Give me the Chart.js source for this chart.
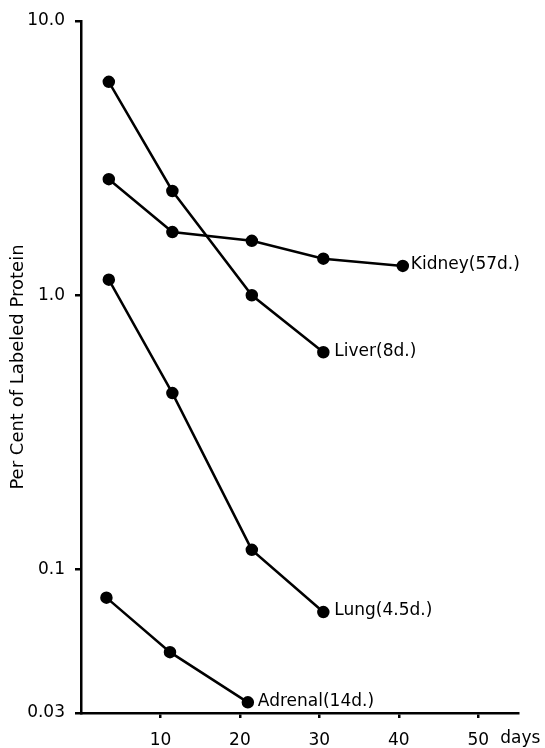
<!DOCTYPE html>
<html>
<head>
<meta charset="utf-8">
<script src="https://cdn.jsdelivr.net/npm/chart.js@4"></script>
<style>
  html, body { margin: 0; padding: 0; background: #fff; }
  #wrap { width: 545px; height: 748px; }
</style>
</head>
<body>
<div id="wrap"><canvas id="proteinChart"></canvas></div>
<script>
// Values (days after labeling, % of labeled protein)
const liverDays = [3.5, 11.5, 21.5, 30.5];
const liverValues = [6.0, 2.4, 1.0, 0.62];

const kidneyDays = [3.5, 11.5, 21.5, 30.5, 40.5];
const kidneyValues = [2.65, 1.70, 1.58, 1.36, 1.28];

const lungDays = [3.5, 11.5, 21.5, 30.5];
const lungValues = [1.14, 0.44, 0.118, 0.070];

const adrenalDays = [3.2, 11.2, 21];
const adrenalValues = [0.079, 0.050, 0.0328];

const seriesNames = ['Kidney(57d.)', 'Liver(8d.)', 'Lung(4.5d.)', 'Adrenal(14d.)'];
// gap between last dot and its name, px
const labelGaps = [8, 11, 11, 10];

// Axis ticks
const xTickValues = [10, 20, 30, 40, 50];
const yTickValues = [0.03, 0.1, 1, 10];
const yTickLabels = ['0.03', '0.1', '1.0', '10.0'];

Chart.defaults.font.family = '"DejaVu Sans", sans-serif';
Chart.defaults.color = '#000';

function toPoints(days, values) {
    return days.map((d, i) => ({ x: d, y: values[i] }));
}

function makeSet(label, days, values) {
    return {
        label: label,
        data: toPoints(days, values),
        borderColor: '#000',
        backgroundColor: '#000',
        borderWidth: 2.5,
        pointRadius: 5,
        pointBackgroundColor: '#000',
        pointBorderColor: '#000',
        tension: 0,
        clip: false
    };
}

// Put each curve's name right after its last point, plus the "days" unit
const endLabels = {
    id: 'endLabels',
    afterDatasetsDraw(chart) {
        const ctx = chart.ctx;
        ctx.save();
        ctx.font = '17px "DejaVu Sans", sans-serif';
        ctx.fillStyle = '#000';
        ctx.textAlign = 'left';
        ctx.textBaseline = 'middle';
        chart.data.datasets.forEach((ds, i) => {
            const pts = chart.getDatasetMeta(i).data;
            const last = pts[pts.length - 1];
            ctx.fillText(ds.label, last.x + labelGaps[i], last.y - 1);
        });
        const xs = chart.scales.x;
        ctx.textBaseline = 'top';
        ctx.fillText('days', xs.getPixelForValue(50) + 22, xs.top + 5 + 12);
        ctx.restore();
    }
};

const config = {
    type: 'line',
    data: {
        datasets: [
            makeSet(seriesNames[0], kidneyDays, kidneyValues),
            makeSet(seriesNames[1], liverDays, liverValues),
            makeSet(seriesNames[2], lungDays, lungValues),
            makeSet(seriesNames[3], adrenalDays, adrenalValues)
        ]
    },
    options: {
        responsive: true,
        maintainAspectRatio: false,
        animation: false,
        layout: { padding: { top: 21, right: 27, bottom: 0, left: 0 } },
        plugins: {
            legend: { display: false },
            tooltip: { enabled: false }
        },
        scales: {
            x: {
                type: 'linear',
                min: 0,
                max: 55,
                afterBuildTicks: (scale) => {
                    scale.ticks = xTickValues.map(v => ({ value: v }));
                },
                afterFit: (scale) => { scale.height = 35; },
                border: { display: true, color: '#000', width: 2.5 },
                grid: { drawOnChartArea: false, drawTicks: true, tickLength: 5, color: '#000', lineWidth: 2.5 },
                ticks: { font: { size: 17 }, padding: 12, maxRotation: 0 }
            },
            y: {
                type: 'logarithmic',
                min: 0.03,
                max: 10,
                afterBuildTicks: (scale) => {
                    scale.ticks = yTickValues.map(v => ({ value: v }));
                },
                afterFit: (scale) => { scale.width = 81; },
                border: { display: true, color: '#000', width: 2.5 },
                grid: { drawOnChartArea: false, drawTicks: true, tickLength: 6, color: '#000', lineWidth: 2.5 },
                ticks: {
                    font: { size: 17 },
                    padding: 10,
                    callback: (value) => {
                        const k = yTickValues.indexOf(value);
                        return k >= 0 ? yTickLabels[k] : '';
                    }
                },
                title: {
                    display: true,
                    text: 'Per Cent of Labeled Protein',
                    font: { size: 18 },
                    padding: { top: 8, bottom: 0 }
                }
            }
        }
    },
    plugins: [endLabels]
};

const proteinChart = new Chart(document.getElementById('proteinChart'), config);
</script>
</body>
</html>
